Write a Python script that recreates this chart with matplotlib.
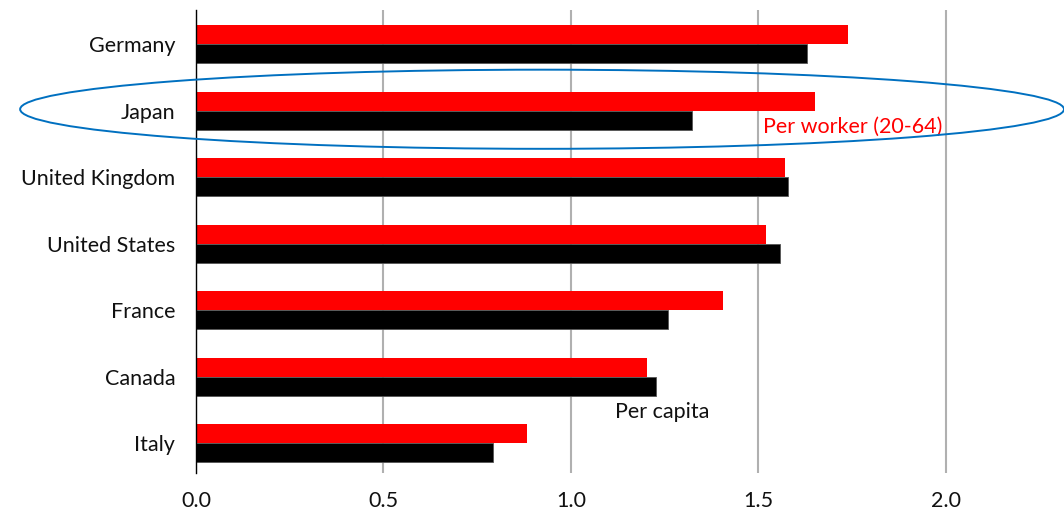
import matplotlib
matplotlib.use("Agg")
import matplotlib.pyplot as plt
from matplotlib.patches import Ellipse
import numpy as np

countries = ["Germany", "Japan", "United Kingdom", "United States", "France", "Canada", "Italy"]
per_worker = [1.74, 1.65, 1.57, 1.52, 1.405, 1.203, 0.883]
per_capita = [1.63, 1.323, 1.58, 1.557, 1.258, 1.227, 0.792]
xticks = [0.0, 0.5, 1.0, 1.5, 2.0]

plt.rcParams['font.family'] = ['Lato', 'DejaVu Sans']
FS = 15.5

fig = plt.figure(figsize=(10.64, 5.11), dpi=100)
ax = fig.add_axes([0.1842, 0.0744, 0.8158, 0.9057])

y = np.arange(len(countries))
h = 0.285
ax.barh(y - h/2, per_worker, height=h, color='#ff0000', zorder=3)
ax.barh(y + h/2, per_capita, height=h, color='#000000', edgecolor='#555555', linewidth=0.6, zorder=3)

ax.set_xlim(0, 2.315)
ax.set_ylim(6.45, -0.51)
ax.set_yticks(y)
ax.set_yticklabels(countries, fontsize=FS, color='#111111')
ax.set_xticks(xticks)
ax.set_xticklabels([f"{v:.1f}" for v in xticks], fontsize=FS, color='#111111')
ax.tick_params(axis='both', length=0)
ax.tick_params(axis='x', pad=13)
ax.tick_params(axis='y', pad=15)

for s in ['top', 'right', 'bottom']:
    ax.spines[s].set_visible(False)
ax.spines['left'].set_color('black')
ax.spines['left'].set_linewidth(1.0)
ax.spines['left'].set_zorder(4)

ax.grid(axis='x', color='#b0b0b0', linewidth=1.5, zorder=0)
ax.set_axisbelow(True)

ax.text(1.512, 1.25, "Per worker (20-64)", color='#ff0000', fontsize=FS, va='center', ha='left', zorder=5)
ax.text(1.117, 5.53, "Per capita", color='#111111', fontsize=FS, va='center', ha='left', zorder=5)

ell = Ellipse((0.923, 0.98), width=2.784, height=1.19, fill=False, edgecolor='#0070c0', linewidth=1.4, clip_on=False, zorder=6)
ax.add_patch(ell)

fig.savefig("out.png", dpi=100)
